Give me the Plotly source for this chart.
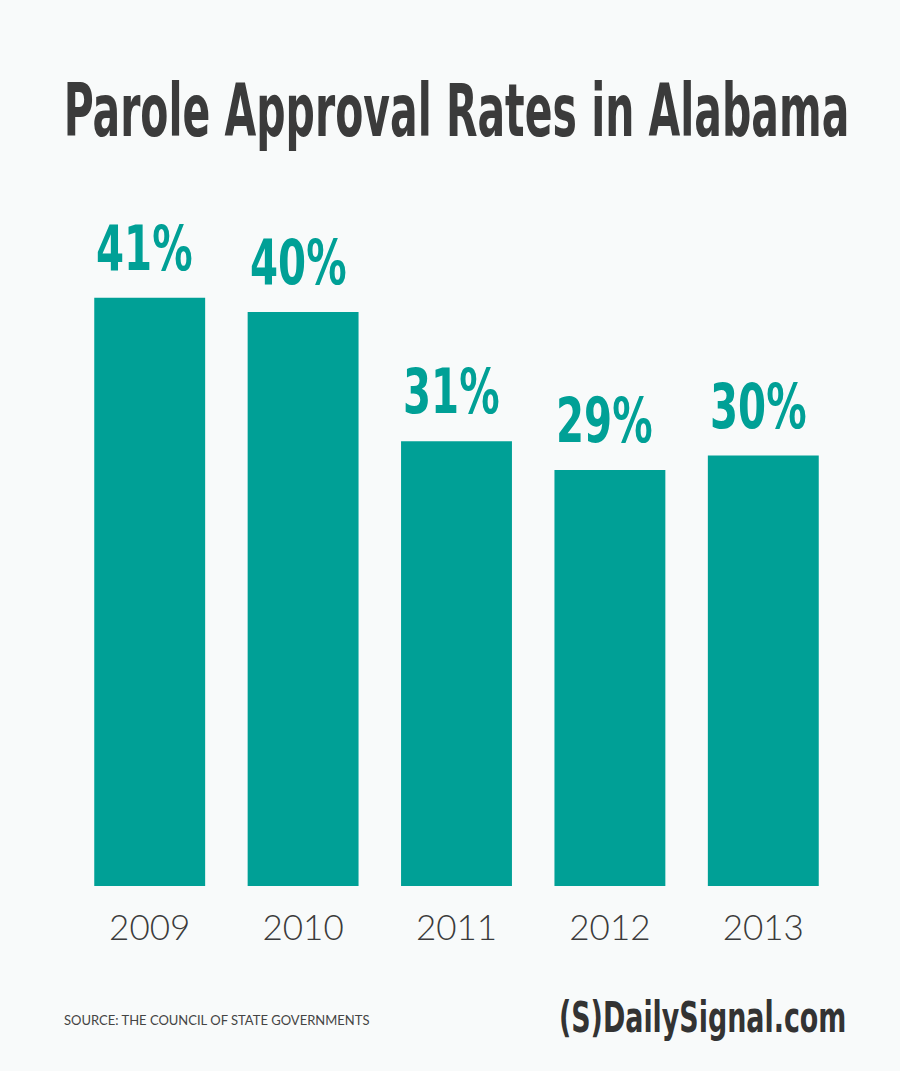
import plotly.graph_objects as go

years = ["2009", "2010", "2011", "2012", "2013"]
rates = [41, 40, 31, 29, 30]
labels = ["41%", "40%", "31%", "29%", "30%"]

teal = "#00a096"
bg = "#f8fafa"
dark = "#3b3b3b"
cond = "DejaVu Sans Condensed, Liberation Sans Narrow, Roboto, sans-serif"

fig = go.Figure()
fig.add_trace(go.Bar(x=years, y=rates, marker=dict(color=teal, line=dict(width=0)),
                     hoverinfo="skip"))

for i, (v, lab) in enumerate(zip(rates, labels)):
    fig.add_annotation(x=i, y=v, xref="x", yref="y", text=lab, showarrow=False,
                       xanchor="center", yanchor="bottom", xshift=-5, yshift=15,
                       font=dict(family=cond, size=56, color=teal, weight="bold"))

fig.update_layout(
    width=900, height=1071,
    paper_bgcolor=bg, plot_bgcolor=bg,
    margin=dict(l=73, r=60, t=226, b=185),
    bargap=0.277,
    showlegend=False,
    title=dict(text="Parole Approval Rates in Alabama", x=0.5, xanchor="center",
               xref="paper", yref="container", y=1 - 110 / 1071, yanchor="middle",
               font=dict(family=cond, size=52, color=dark, weight="bold")),
    xaxis=dict(type="category", range=[-0.5, 4.5], showgrid=False, zeroline=False,
               showline=False, ticks="",
               tickfont=dict(family="Lato", size=35, color=dark, weight=300),
               ticklabelstandoff=18),
    yaxis=dict(range=[0, 46], visible=False),
)

fig.add_annotation(x=-11 / 767, y=-(1020 - 886) / 660, xref="paper", yref="paper",
                   xanchor="left", yanchor="middle",
                   text="SOURCE: THE COUNCIL OF STATE GOVERNMENTS", showarrow=False,
                   font=dict(family="Lato", size=13, color="#444444"))
fig.add_annotation(x=(887 - 73) / 767, y=-(1017 - 886) / 660, xref="paper", yref="paper",
                   xanchor="right", yanchor="middle",
                   text="(S)DailySignal.com", showarrow=False,
                   font=dict(family=cond, size=38, color="#333333", weight="bold"))

post = """
var gd=document.getElementById('{plot_id}');
function fixText(){
  document.querySelectorAll('text').forEach(function(t){
    var s=t.textContent, sc=null;
    if(s==='Parole Approval Rates in Alabama') sc='scale(0.876,1.42)';
    else if(/^\\d\\d%$/.test(s)) sc='scale(0.8,1.12)';
    else if(s==='(S)DailySignal.com') sc='scale(0.787,1.12)';
    if(sc){t.style.transformBox='fill-box';t.style.transformOrigin='center';t.style.transform=sc;}
  });
}
fixText();
if(gd && gd.on){gd.on('plotly_afterplot',fixText);}
document.body.style.margin='0';
"""

fig.write_html("out.html", post_script=post, config={"displayModeBar": False})
